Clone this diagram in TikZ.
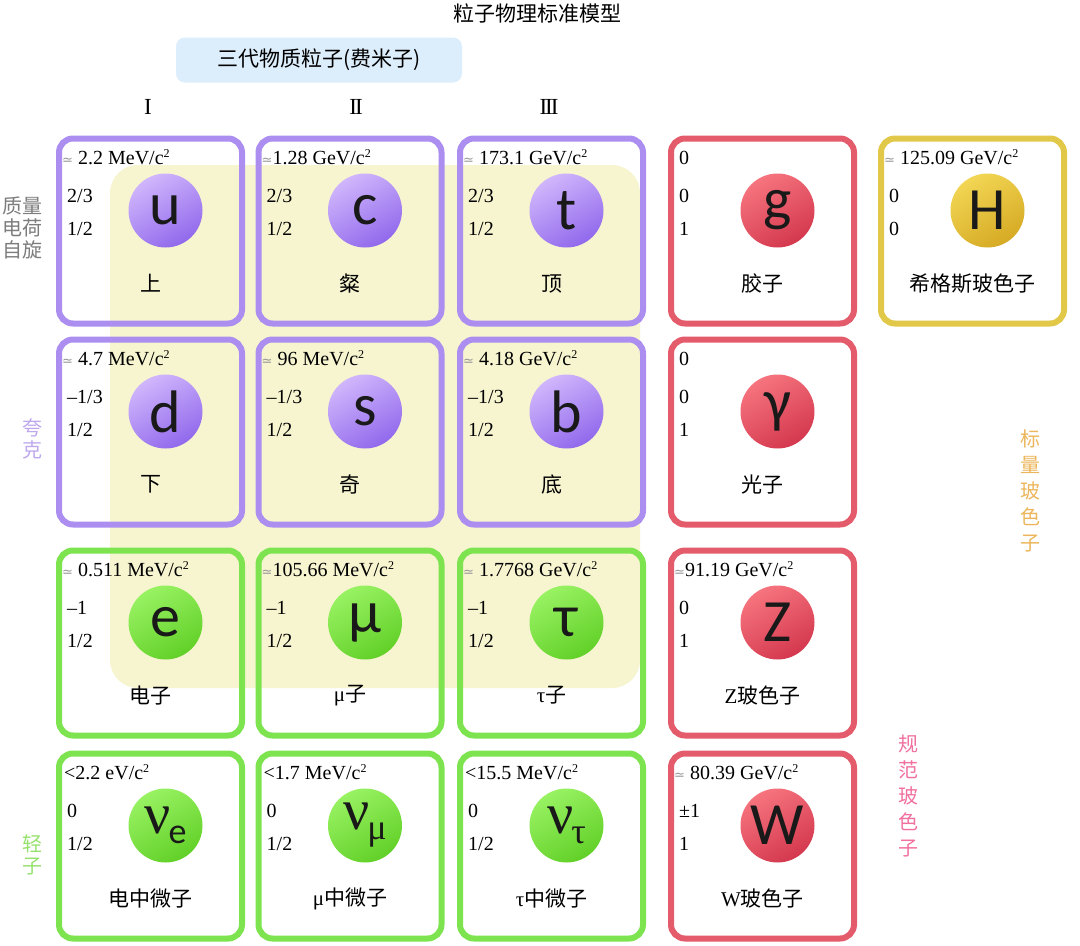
\documentclass[tikz,border=0pt]{standalone}
\usepackage{fontspec}
\setmainfont{Liberation Serif}
\newfontfamily\cjk{Noto Sans CJK SC}
\newfontfamily\symf{Carlito}
\newfontfamily\dvs{DejaVu Sans}
\usetikzlibrary{calc}

\definecolor{qline}{RGB}{172,142,240}
\definecolor{lline}{RGB}{125,228,80}
\definecolor{gline}{RGB}{228,92,108}
\definecolor{hline}{RGB}{226,200,72}
\definecolor{qtop}{RGB}{208,182,252}
\definecolor{qbot}{RGB}{145,105,236}
\definecolor{ltop}{RGB}{152,242,98}
\definecolor{lbot}{RGB}{98,208,40}
\definecolor{gtop}{RGB}{246,116,126}
\definecolor{gbot}{RGB}{212,56,78}
\definecolor{htop}{RGB}{242,214,84}
\definecolor{hbot}{RGB}{214,170,36}
\definecolor{bgyellow}{RGB}{247,244,208}
\definecolor{bluebox}{RGB}{220,237,251}
\definecolor{graylab}{RGB}{125,125,125}
\definecolor{purplab}{RGB}{190,168,238}
\definecolor{greenlab}{RGB}{150,226,110}
\definecolor{orangelab}{RGB}{236,182,92}
\definecolor{pinklab}{RGB}{240,112,160}

\newcommand{\zh}[1]{{\cjk #1}}
\newcommand{\fs}[1]{\fontsize{#1}{#1}\selectfont}
\newcommand{\am}{{\dvs\fs{13}\color{graylab!80}≃}}
\newcommand{\cc}{c\raisebox{7pt}{\fs{12}2}}
\newcommand{\nusub}[2]{{\fontspec{Liberation Serif}\fs{58}ν}\kern-2pt\raisebox{-10pt}{#1\fs{36}#2}}

\tikzset{
  x=1pt, y=-1pt,
  boxbase/.style={draw, line width=6pt, rounded corners=14pt, inner sep=0pt,
    minimum width=183pt, minimum height=185pt},
  boxq/.style={boxbase, draw=qline},
  boxl/.style={boxbase, draw=lline},
  boxg/.style={boxbase, draw=gline},
  boxh/.style={boxbase, draw=hline},
  ballbase/.style={circle, minimum size=74pt, inner sep=0pt, text=black!90,
    font=\symf\fs{60}},
  ballq/.style={ballbase, top color=qtop, bottom color=qbot, shading angle=30},
  balll/.style={ballbase, top color=ltop, bottom color=lbot, shading angle=30},
  ballg/.style={ballbase, top color=gtop, bottom color=gbot, shading angle=30},
  ballh/.style={ballbase, top color=htop, bottom color=hbot, shading angle=30},
  masst/.style={anchor=base west, inner sep=0pt, font=\fs{20}},
  numt/.style={anchor=base west, inner sep=0pt, font=\fs{20}},
  namet/.style={inner sep=0pt, font=\fs{21}},
  sidet/.style={inner sep=0pt, align=center, font=\cjk\fontsize{20}{22}\selectfont},
  sidetw/.style={inner sep=0pt, align=center, font=\cjk\fontsize{20}{26}\selectfont},
}

% #1 name #2 cx #3 cy #4 kind #5 mass #6 charge #7 spin #8 symbol #9 label
\newcommand{\pcell}[9]{%
  \node[box#4] (#1) at (#2,#3) {};
  \node[masst] (#1m) at ($(#1.north west)+(6,29)$) {#5};
  \node[numt] (#1q) at ($(#1.north west)+(11,67)$) {#6};
  \node[numt] (#1s) at ($(#1.north west)+(11,100)$) {#7};
  \node[ball#4] (#1c) at ($(#1.north)+(15,75)$) {#8};
  \node[namet] (#1n) at ($(#1.north)+(0,148)$) {#9};
}

\begin{document}
\begin{tikzpicture}
\useasboundingbox (0,0) rectangle (1080,946);
\fill[white] (0,0) rectangle (1080,946);

% background
\fill[bgyellow, rounded corners=28pt] (110,165) rectangle (640,688);

% title
\node[inner sep=0pt, font=\cjk\fs{21}] (title) at (537,13) {粒子物理标准模型};
\node[fill=bluebox, rounded corners=9pt, minimum width=286pt, minimum height=45pt,
  inner sep=0pt, font=\cjk\fs{21}] (ferm) at (319,60) {三代物质粒子(费米子)};
\node[inner sep=0pt, font=\fs{23}] (g1) at (148,107) {I};
\node[inner sep=0pt, font=\fs{23}] (g2) at (356,107) {I\kern-2pt I};
\node[inner sep=0pt, font=\fs{23}] (g3) at (549,107) {I\kern-2pt I\kern-2pt I};

% side labels
\node[sidet, text=graylab] (props) at (22,228) {质量\\电荷\\自旋};
\node[sidet, text=purplab] (quarks) at (32,439) {夸\\克};
\node[sidet, text=greenlab] (leptons) at (32,855) {轻\\子};
\node[sidetw, text=orangelab] (scalar) at (1030,491) {标\\量\\玻\\色\\子};
\node[sidetw, text=pinklab] (gauge) at (908,796) {规\\范\\玻\\色\\子};

% row 1
\pcell{u}{150.5}{231}{q}{\am\ 2.2 MeV/\cc}{2/3}{1/2}{u}{\zh{上}}
\pcell{c}{350}{231}{q}{\am1.28 GeV/\cc}{2/3}{1/2}{c}{\zh{粲}}
\pcell{t}{551.5}{231}{q}{\am\ 173.1 GeV/\cc}{2/3}{1/2}{t}{\zh{顶}}
\pcell{gl}{762.5}{231}{g}{\kern5pt 0}{0}{1}{g}{\zh{胶子}}
\pcell{H}{972.5}{231}{h}{\am\ 125.09 GeV/\cc}{0}{0}{H}{\zh{希格斯玻色子}}
% row 2
\pcell{d}{150.5}{432}{q}{\am\ 4.7 MeV/\cc}{–1/3}{1/2}{d}{\zh{下}}
\pcell{s}{350}{432}{q}{\am\ 96 MeV/\cc}{–1/3}{1/2}{s}{\zh{奇}}
\pcell{b}{551.5}{432}{q}{\am\ 4.18 GeV/\cc}{–1/3}{1/2}{b}{\zh{底}}
\pcell{ph}{762.5}{432}{g}{\kern5pt 0}{0}{1}{γ}{\zh{光子}}
% row 3
\pcell{e}{150.5}{643}{l}{\am\ 0.511 MeV/\cc}{–1}{1/2}{e}{\zh{电子}}
\pcell{mu}{350}{643}{l}{\am105.66 MeV/\cc}{–1}{1/2}{μ}{μ\zh{子}}
\pcell{tau}{551.5}{643}{l}{\am\ 1.7768 GeV/\cc}{–1}{1/2}{τ}{τ\zh{子}}
\pcell{Z}{762.5}{643}{g}{\am91.19 GeV/\cc}{0}{1}{Z}{Z\zh{玻色子}}
% row 4
\pcell{ve}{150.5}{846}{l}{\kern2pt<2.2 eV/\cc}{0}{1/2}{\nusub{\symf}{e}}{\zh{电中微子}}
\pcell{vm}{350}{846}{l}{\kern2pt<1.7 MeV/\cc}{0}{1/2}{\nusub{\rmfamily}{μ}}{μ\zh{中微子}}
\pcell{vt}{551.5}{846}{l}{\kern2pt<15.5 MeV/\cc}{0}{1/2}{\nusub{\rmfamily}{τ}}{τ\zh{中微子}}
\pcell{W}{762.5}{846}{g}{\am\ 80.39 GeV/\cc}{±1}{1}{W}{W\zh{玻色子}}
\end{tikzpicture}
\end{document}
